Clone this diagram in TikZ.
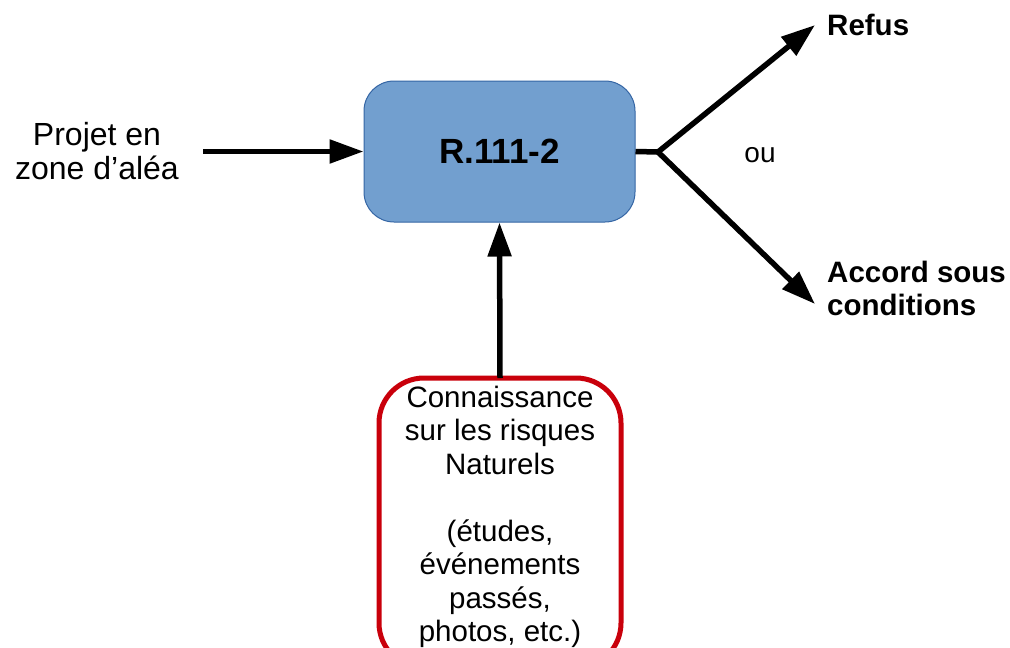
\documentclass[tikz,border=0pt]{standalone}
\usepackage{fontspec}
\setmainfont{Liberation Sans}
\usetikzlibrary{arrows.meta,positioning}

\definecolor{ruleblue}{HTML}{729FCF}
\definecolor{ruleedge}{HTML}{3465A4}
\definecolor{knowred}{HTML}{C9000B}

\tikzset{
  flow/.style={line width=5.5pt, -{Triangle[length=34pt,width=23pt]}},
  stem/.style={line width=5.5pt},
  rulebox/.style={fill=ruleblue, draw=ruleedge, line width=1pt, rounded corners=30pt,
    minimum width=271pt, minimum height=141pt, font=\fontsize{35}{40}\selectfont\bfseries},
  knowbox/.style={draw=knowred, line width=5pt, rounded corners=45pt, outer sep=0pt,
    minimum width=242pt, minimum height=290pt},
  outcome/.style={inner sep=0pt, font=\fontsize{29.5}{33}\selectfont\bfseries},
}

\begin{document}
\begin{tikzpicture}[x=1pt,y=-1pt]
  %%%%% START %%%%%
  \useasboundingbox (0,0) rectangle (1010,648);
  \clip (0,0) rectangle (1010,648);

  \node[rulebox] (rule) at (499.5,151.5) {R.111-2};

  \node[align=center, font=\fontsize{32}{34}\selectfont] (projet) at (97,151.5) {Projet en\\zone d’aléa};
  \draw[flow] ([xshift=21pt]projet.east) -- (rule.west);

  % outputs
  \coordinate (fork) at (658,152);
  \coordinate (tipR) at (815,25);
  \coordinate (tipA) at (815,304);
  \draw[stem] (rule.east) -- (fork);
  \draw[flow, line cap=round] (fork) -- (tipR);
  \draw[flow, line cap=round] (fork) -- (tipA);

  \node[outcome, anchor=base west] (refus) at (827,35) {Refus};
  \node[outcome, anchor=north west, align=left] (accord) at (827,261) {Accord sous\\conditions};
  \node[anchor=base, font=\fontsize{28}{32}\selectfont] (ou) at (760,162) {ou};

  % knowledge box
  \node[knowbox, anchor=north] (know) at (500,378) {};
  \node[anchor=north, align=center, inner sep=0pt, font=\fontsize{29.5}{33.5}\selectfont]
    (knowtxt) at ([yshift=-7.5pt]know.north)
    {Connaissance\\sur les risques\\Naturels\\\mbox{}\\(études,\\événements\\passés,\\photos, etc.)};
  \draw[flow] (know.north) -- (rule.south);
  %%%%% END %%%%%
\end{tikzpicture}
\end{document}
